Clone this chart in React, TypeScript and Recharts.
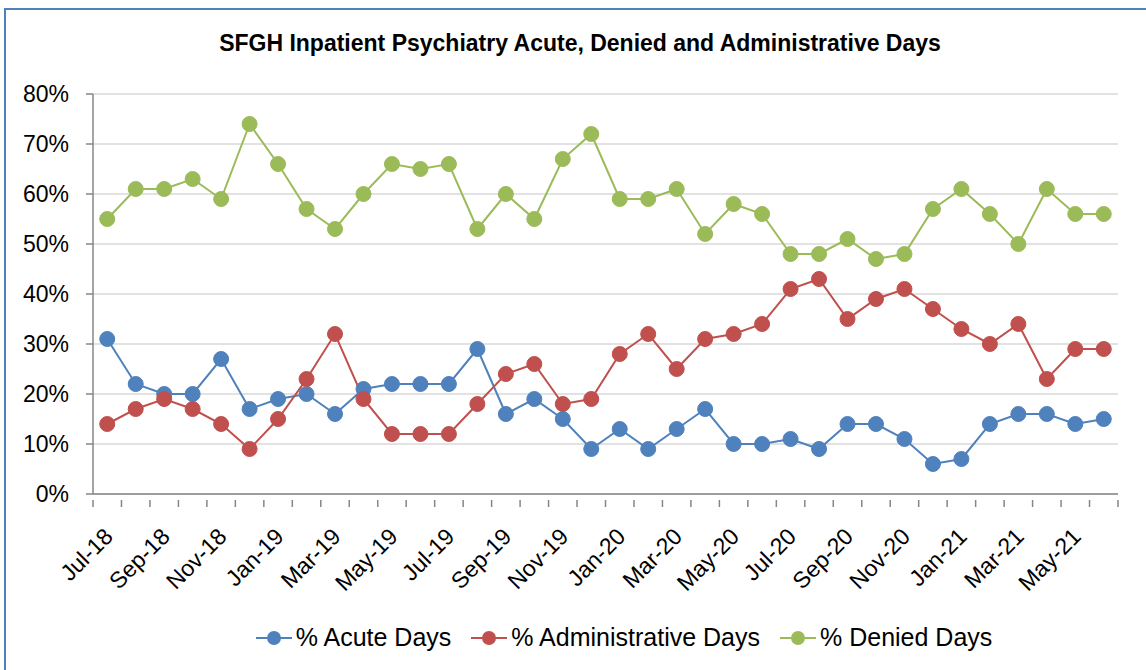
import React from "react"
import { CartesianGrid, Legend, Line, LineChart, XAxis, YAxis } from "recharts"

const months = [
  "Jul-18", "Aug-18", "Sep-18", "Oct-18", "Nov-18", "Dec-18",
  "Jan-19", "Feb-19", "Mar-19", "Apr-19", "May-19", "Jun-19",
  "Jul-19", "Aug-19", "Sep-19", "Oct-19", "Nov-19", "Dec-19",
  "Jan-20", "Feb-20", "Mar-20", "Apr-20", "May-20", "Jun-20",
  "Jul-20", "Aug-20", "Sep-20", "Oct-20", "Nov-20", "Dec-20",
  "Jan-21", "Feb-21", "Mar-21", "Apr-21", "May-21", "Jun-21",
]

const acute = [
  31, 22, 20, 20, 27, 17, 19, 20, 16, 21, 22, 22,
  22, 29, 16, 19, 15, 9, 13, 9, 13, 17, 10, 10,
  11, 9, 14, 14, 11, 6, 7, 14, 16, 16, 14, 15,
]

const administrative = [
  14, 17, 19, 17, 14, 9, 15, 23, 32, 19, 12, 12,
  12, 18, 24, 26, 18, 19, 28, 32, 25, 31, 32, 34,
  41, 43, 35, 39, 41, 37, 33, 30, 34, 23, 29, 29,
]

const denied = [
  55, 61, 61, 63, 59, 74, 66, 57, 53, 60, 66, 65,
  66, 53, 60, 55, 67, 72, 59, 59, 61, 52, 58, 56,
  48, 48, 51, 47, 48, 57, 61, 56, 50, 61, 56, 56,
]

const yTicks = [0, 10, 20, 30, 40, 50, 60, 70, 80]

const data = months.map((month, i) => ({
  month,
  acute: acute[i],
  administrative: administrative[i],
  denied: denied[i],
}))

const BLUE = "#4F81BD"
const RED = "#C0504D"
const GREEN = "#9BBB59"
const AXIS = "#868686"
const FONT = "'Liberation Sans', Arial, sans-serif"

const series = [
  { key: "acute", name: "% Acute Days", color: BLUE },
  { key: "administrative", name: "% Administrative Days", color: RED },
  { key: "denied", name: "% Denied Days", color: GREEN },
]

// Excel-style: tick marks on the category boundaries, label every other month
function MonthTick(props: any) {
  const { x, y, payload } = props
  const half = payload.offset || 0
  const last = payload.index === months.length - 1
  const top = y - 2
  const ax = x + 7
  const ay = top + 38
  return (
    <g>
      <line x1={x - half} x2={x - half} y1={top} y2={top + 7} stroke={AXIS} strokeWidth={1.5} />
      {last && <line x1={x + half} x2={x + half} y1={top} y2={top + 7} stroke={AXIS} strokeWidth={1.5} />}
      {payload.index % 2 === 0 && (
        <text
          x={ax}
          y={ay}
          transform={`rotate(-45, ${ax}, ${ay})`}
          textAnchor="end"
          fontSize={23}
          fontFamily={FONT}
          fill="#000"
        >
          {payload.value}
        </text>
      )}
    </g>
  )
}

function LegendContent() {
  return (
    <div
      style={{
        display: "flex",
        justifyContent: "center",
        alignItems: "center",
        gap: 20,
        fontFamily: FONT,
        fontSize: 25,
        paddingLeft: 122,
      }}
    >
      {series.map((s) => (
        <div key={s.key} style={{ display: "flex", alignItems: "center" }}>
          <svg width={36} height={16} style={{ marginRight: 4 }}>
            <line x1={0} x2={36} y1={8} y2={8} stroke={s.color} strokeWidth={2} />
            <circle cx={18} cy={8} r={7} fill={s.color} />
          </svg>
          <span>{s.name}</span>
        </div>
      ))}
    </div>
  )
}

export default function App() {
  return (
    <div style={{ position: "fixed", left: 0, top: 0, width: 1146, height: 670, overflow: "hidden", background: "#fff" }}>
      <div
        style={{
          position: "absolute",
          top: 30,
          left: 0,
          width: 1160,
          textAlign: "center",
          fontFamily: FONT,
          fontWeight: "bold",
          fontSize: 23,
        }}
      >
        SFGH Inpatient Psychiatry Acute, Denied and Administrative Days
      </div>
      <div style={{ position: "absolute", left: 0, top: 0 }}>
        <LineChart width={1146} height={670} data={data} margin={{ top: 94, right: 28, left: 8, bottom: 0 }}>
          <CartesianGrid vertical={false} stroke="#D9D9D9" strokeWidth={1.5} />
          <XAxis
            dataKey="month"
            scale="band"
            interval={0}
            height={116}
            stroke={AXIS}
            strokeWidth={1.5}
            tickLine={false}
            tick={<MonthTick />}
          />
          <YAxis
            domain={[0, 80]}
            ticks={yTicks}
            width={85}
            stroke={AXIS}
            strokeWidth={1.5}
            tickSize={7}
            tickMargin={17}
            tickFormatter={(v) => `${v}%`}
            tick={{ fill: "#000", fontSize: 23, fontFamily: FONT }}
          />
          <Legend
            verticalAlign="bottom"
            height={60}
            wrapperStyle={{ top: 623 }}
            content={<LegendContent />}
          />
          {series.map((s) => (
            <Line
              key={s.key}
              type="linear"
              dataKey={s.key}
              name={s.name}
              stroke={s.color}
              strokeWidth={2}
              dot={{ r: 7.5, fill: s.color, stroke: s.color, strokeWidth: 1 }}
              activeDot={false}
              isAnimationActive={false}
            />
          ))}
        </LineChart>
      </div>
      {/* chart-area frame: only the top and left edges fall inside the picture */}
      <div style={{ position: "absolute", left: 4, top: 8, width: 1142, height: 2, background: BLUE, zIndex: 5 }} />
      <div style={{ position: "absolute", left: 4, top: 8, width: 2, height: 662, background: BLUE, zIndex: 5 }} />
    </div>
  )
}
